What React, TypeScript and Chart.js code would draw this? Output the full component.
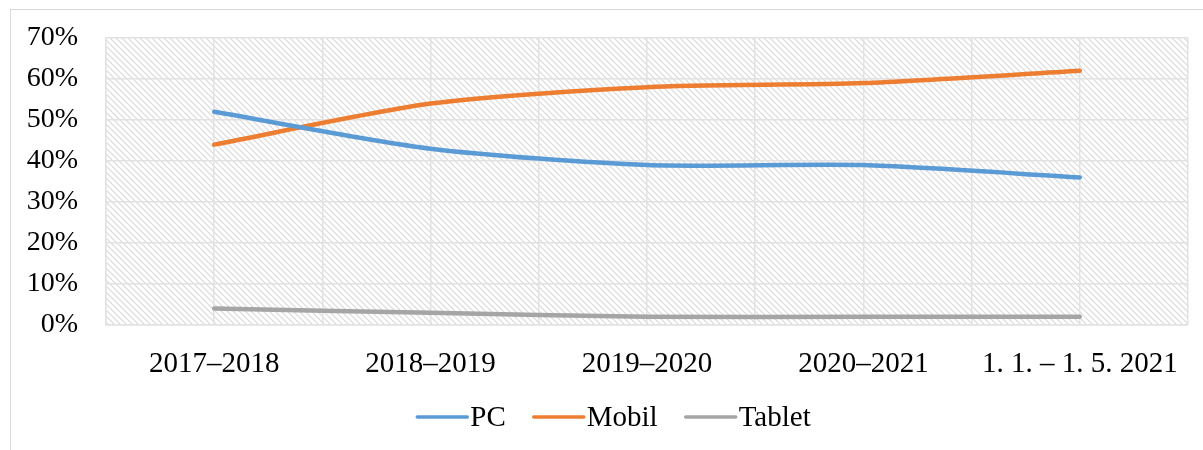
import React, { useEffect, useRef } from "react";
import { Chart, registerables } from "chart.js";

Chart.register(...registerables);

const categories = ["2017–2018", "2018–2019", "2019–2020", "2020–2021", "1. 1. – 1. 5. 2021"];
const pcValues = [52, 43, 39, 39, 36];
const mobilValues = [44, 54, 58, 59, 62];
const tabletValues = [4, 3, 2, 2, 2];
const seriesNames = ["PC", "Mobil", "Tablet"];
const seriesColors = ["#5B9BD5", "#ED7D31", "#A5A5A5"];
const yTicks = [0, 10, 20, 30, 40, 50, 60, 70];

const FONT = "'Liberation Serif', 'Times New Roman', serif";

function makePattern(ctx: CanvasRenderingContext2D) {
  const n = 6;
  const c = document.createElement("canvas");
  c.width = n;
  c.height = n;
  const p = c.getContext("2d")!;
  p.fillStyle = "#ffffff";
  p.fillRect(0, 0, n, n);
  p.strokeStyle = "#d9d9d9";
  p.lineWidth = 1.2;
  p.beginPath();
  p.moveTo(-1, -1);
  p.lineTo(n + 1, n + 1);
  p.moveTo(-1, n - 1);
  p.lineTo(1, n + 1);
  p.moveTo(n - 1, -1);
  p.lineTo(n + 1, 1);
  p.stroke();
  return ctx.createPattern(c, "repeat");
}

const decorPlugin = {
  id: "decor",
  beforeDraw(chart: any) {
    const { ctx, chartArea, width, height } = chart;
    ctx.save();
    ctx.fillStyle = "#ffffff";
    ctx.fillRect(0, 0, width, height);
    ctx.strokeStyle = "#d9d9d9";
    ctx.lineWidth = 1;
    ctx.strokeRect(10.5, 9.5, width + 20, height + 20);
    const pat = makePattern(ctx);
    if (pat) {
      ctx.fillStyle = pat;
      ctx.fillRect(chartArea.left, chartArea.top, chartArea.right - chartArea.left, chartArea.bottom - chartArea.top);
    }
    ctx.restore();
  },
  afterDraw(chart: any) {
    const { ctx } = chart;
    const ds = chart.data.datasets;
    ctx.save();
    ctx.font = `29px ${FONT}`;
    ctx.textBaseline = "middle";
    const lineW = 54;
    const gapText = 1;
    const gapItem = 26;
    const widths = ds.map((d: any) => lineW + gapText + ctx.measureText(d.label).width);
    const total = widths.reduce((a: number, b: number) => a + b, 0) + gapItem * (ds.length - 1);
    let x = 613 - total / 2;
    const y = 417;
    ds.forEach((d: any, i: number) => {
      ctx.strokeStyle = d.borderColor;
      ctx.lineWidth = 3.5;
      ctx.lineCap = "round";
      ctx.beginPath();
      ctx.moveTo(x + 2, y);
      ctx.lineTo(x + lineW - 2, y);
      ctx.stroke();
      ctx.fillStyle = "#000000";
      ctx.textAlign = "left";
      ctx.fillText(d.label, x + lineW + gapText, y + 1);
      x += widths[i] + gapItem;
    });
    ctx.restore();
  },
};

export default function App() {
  const ref = useRef<HTMLCanvasElement | null>(null);

  useEffect(() => {
    if (!ref.current) return;
    const toPts = (arr: number[]) => arr.map((v, i) => ({ x: i, y: v }));
    const values = [pcValues, mobilValues, tabletValues];
    const chart = new Chart(ref.current, {
      type: "line",
      data: {
        datasets: values.map((arr, i) => ({
          label: seriesNames[i],
          data: toPts(arr),
          borderColor: seriesColors[i],
          backgroundColor: seriesColors[i],
          borderWidth: 4.5,
          pointRadius: 0,
          tension: 0.25,
          borderCapStyle: "round" as const,
          borderJoinStyle: "round" as const,
        })),
      },
      options: {
        animation: false,
        responsive: false,
        devicePixelRatio: 1,
        layout: { padding: { top: 38, right: 15, bottom: 65, left: 0 } },
        plugins: {
          legend: { display: false },
          tooltip: { enabled: false },
        },
        scales: {
          x: {
            type: "linear",
            min: -0.5,
            max: categories.length - 0.5,
            afterFit: (s: any) => {
              s.height = 60;
              s.paddingLeft = 0;
              s.paddingRight = 0;
              s.paddingTop = 0;
              s.paddingBottom = 0;
            },
            afterBuildTicks: (s: any) => {
              const t = [];
              for (let v = -0.5; v <= categories.length - 0.5 + 1e-9; v += 0.5) t.push({ value: v });
              s.ticks = t;
            },
            ticks: {
              autoSkip: false,
              maxRotation: 0,
              minRotation: 0,
              padding: 22,
              color: "#000000",
              font: { family: FONT, size: 29 },
              callback: (v: any) => {
                const n = Number(v);
                return Number.isInteger(n) ? categories[n] : "";
              },
            },
            grid: { color: "#e2e2e2", lineWidth: 1.5, drawTicks: false },
            border: { color: "#e2e2e2", width: 1.5 },
          },
          y: {
            min: 0,
            max: 70,
            afterFit: (s: any) => {
              s.width = 106;
              s.paddingTop = 0;
              s.paddingBottom = 0;
              s.paddingLeft = 0;
              s.paddingRight = 0;
            },
            afterBuildTicks: (s: any) => {
              s.ticks = yTicks.map((v) => ({ value: v }));
            },
            ticks: {
              padding: 28,
              color: "#000000",
              font: { family: FONT, size: 28 },
              callback: (v: any) => `${v}%`,
            },
            grid: { color: "#e2e2e2", lineWidth: 1.5, drawTicks: false },
            border: { color: "#e2e2e2", width: 1.5 },
          },
        },
      },
      plugins: [decorPlugin],
    });
    return () => chart.destroy();
  }, []);

  return (
    <div style={{ position: "absolute", left: 0, top: 0, width: 1203, height: 450 }}>
      <canvas ref={ref} width={1203} height={450} style={{ display: "block", width: 1203, height: 450 }} />
    </div>
  );
}
